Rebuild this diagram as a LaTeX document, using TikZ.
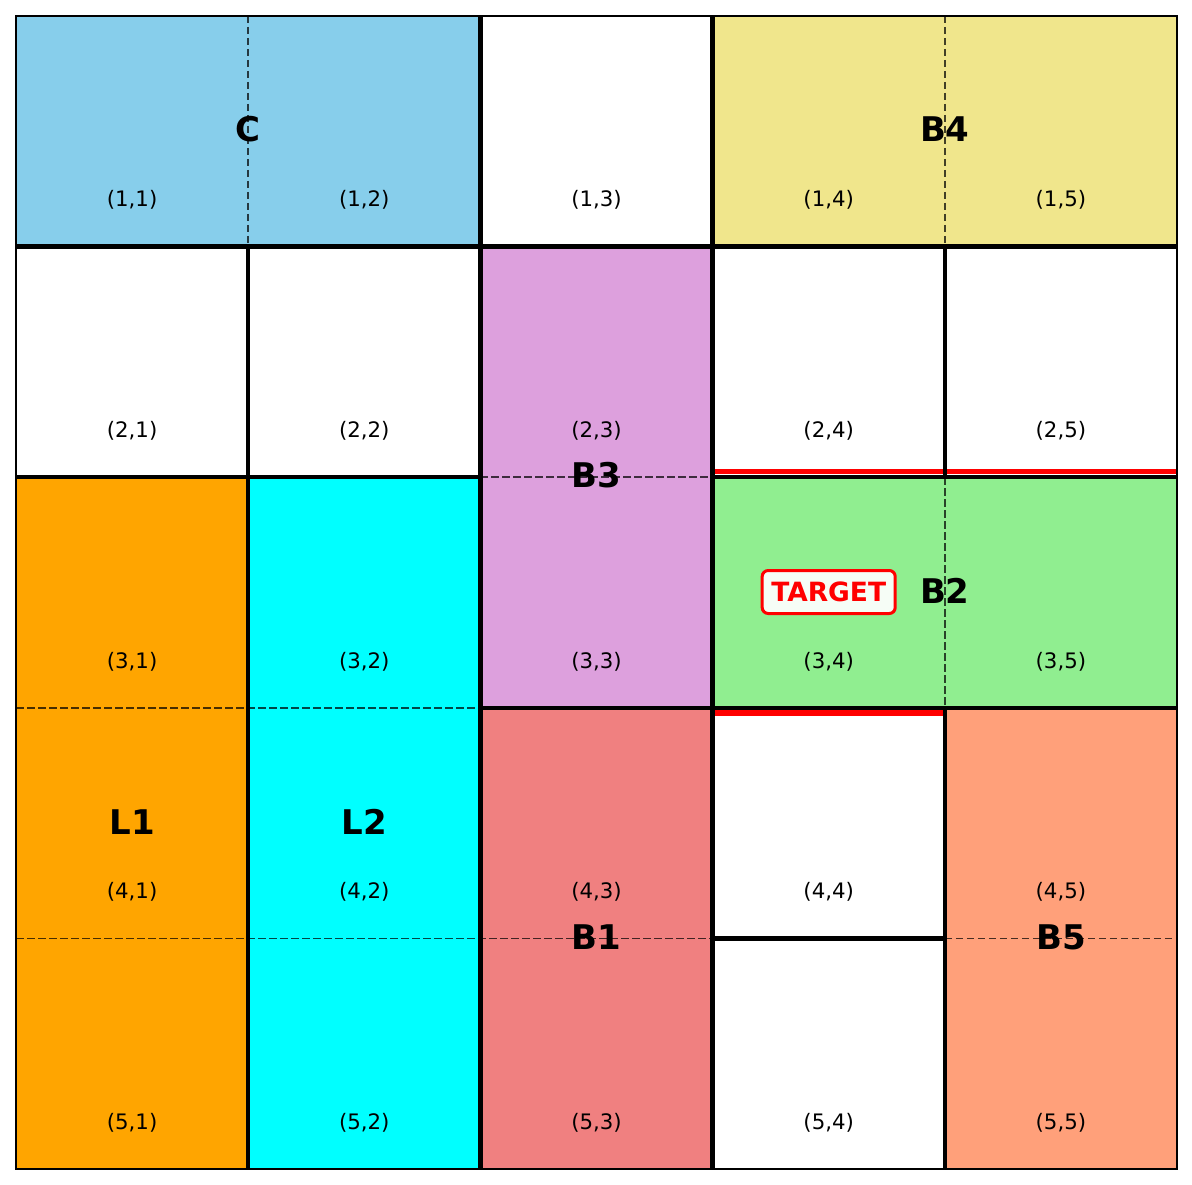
\documentclass[tikz,border=0pt]{standalone}
\usepackage{fontspec}
\setmainfont{DejaVu Sans}
\definecolor{skyblue}{HTML}{87CEEB}
\definecolor{khakic}{HTML}{F0E68C}
\definecolor{plumc}{HTML}{DDA0DD}
\definecolor{orangec}{HTML}{FFA500}
\definecolor{cyanc}{HTML}{00FFFF}
\definecolor{lgreen}{HTML}{90EE90}
\definecolor{lcoral}{HTML}{F08080}
\definecolor{lsalmon}{HTML}{FFA07A}
\definecolor{redc}{HTML}{FF0000}
\tikzset{
  wall/.style={line width=4.3pt, line cap=butt},
  inner/.style={line width=1.7pt, black, opacity=0.72, dash pattern=on 7.5pt off 3.5pt},
  redwall/.style={line width=5.5pt, redc},
  coordlbl/.style={font=\fontsize{21.3}{25}\selectfont, inner sep=0pt},
  biglbl/.style={font=\fontsize{34}{39}\selectfont\bfseries, inner sep=0pt},
  targetbox/.style={draw=redc, line width=3pt, fill=white, fill opacity=0.92, text opacity=1, rounded corners=6pt, minimum width=133pt, minimum height=43pt, inner sep=0pt, text=redc, font=\fontsize{26.5}{31}\selectfont\bfseries}
}
\begin{document}
\begin{tikzpicture}[x=1pt,y=-1pt]
\useasboundingbox (0,0) rectangle (1192,1185);
% block fills
\fill[skyblue] (16,16) rectangle (480.4,246.6);
\fill[khakic] (712.6,16) rectangle (1177,246.6);
\fill[plumc] (480.4,246.6) rectangle (712.6,707.8);
\fill[orangec] (16,477.2) rectangle (248.2,1169);
\fill[cyanc] (248.2,477.2) rectangle (480.4,1169);
\fill[lgreen] (712.6,477.2) rectangle (1177,707.8);
\fill[lcoral] (480.4,707.8) rectangle (712.6,1169);
\fill[lsalmon] (944.8,707.8) rectangle (1177,1169);
% inner dashed lines
\draw[inner] (248.2,16) -- (248.2,246.6);
\draw[inner] (944.8,16) -- (944.8,246.6);
\draw[inner] (944.8,477.2) -- (944.8,707.8);
\draw[inner] (480.4,477.2) -- (712.6,477.2);
\draw[inner] (16,707.8) -- (480.4,707.8);
\draw[inner] (16,938.4) -- (712.6,938.4);
\draw[inner] (944.8,938.4) -- (1177,938.4);
% red walls
\draw[redwall] (712.6,471.6) -- (1177,471.6);
\draw[redwall] (712.6,713.2) -- (944.8,713.2);
% thick walls
\draw[wall] (16,246.6) -- (1177,246.6);
\draw[wall] (16,477.2) -- (480.4,477.2);
\draw[wall] (712.6,477.2) -- (1177,477.2);
\draw[wall] (480.4,707.8) -- (1177,707.8);
\draw[wall] (712.6,938.4) -- (944.8,938.4);
\draw[wall] (248.2,246.6) -- (248.2,1169);
\draw[wall] (480.4,16) -- (480.4,1169);
\draw[wall] (712.6,16) -- (712.6,1169);
\draw[wall] (944.8,246.6) -- (944.8,477.2);
\draw[wall] (944.8,707.8) -- (944.8,1169);
% outer border
\draw[line width=2pt] (16,16) rectangle (1177,1169);
% cell coordinate labels
\foreach \r in {1,...,5}{
  \foreach \c in {1,...,5}{
    \node[coordlbl] (lbl-\r-\c) at ({16+232.2*(\c-0.5)},{16+230.6*(\r-0.5)+69}) {(\r,\c)};
  }
}
% block labels
\node[biglbl] (C) at (248.2,129.5) {C};
\node[biglbl] (B4) at (944.8,129.5) {B4};
\node[biglbl] (B3) at (596.5,475.5) {B3};
\node[biglbl] (B2) at (944.8,591) {B2};
\node[biglbl] (L1) at (132.1,822) {L1};
\node[biglbl] (L2) at (364.3,822) {L2};
\node[biglbl] (B1) at (596.5,937) {B1};
\node[biglbl] (B5) at (1060.9,937) {B5};
\node[targetbox] (target) at (828.7,592) {TARGET};
\end{tikzpicture}
\end{document}
